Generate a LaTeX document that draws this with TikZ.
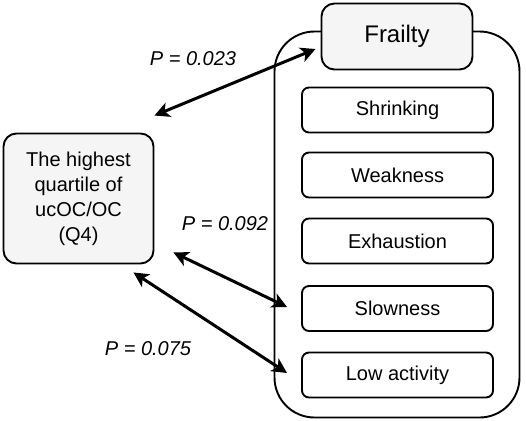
\documentclass[tikz,border=0pt]{standalone}
\usepackage{fontspec}
\setmainfont{Liberation Sans}
\usetikzlibrary{arrows.meta, positioning, calc}

\begin{document}
\begin{tikzpicture}[
      x=1pt, y=-1pt,
      box/.style={draw=black, line width=1.9pt, rectangle, rounded corners=7pt, fill=white, align=center, inner sep=0pt, minimum width=191pt, minimum height=45pt, font=\fontsize{20}{25}\selectfont},
      mainbox/.style={box, fill=black!4, rounded corners=13pt},
      link/.style={draw=black, {Stealth[length=15pt, width=15pt, inset=4pt]}-{Stealth[length=15pt, width=15pt, inset=4pt]}, line width=3pt},
      plabel/.style={font=\fontsize{20}{24}\itshape}
  ]
      \useasboundingbox (0,0) rectangle (526,420);

      % Right: frailty group
      \node [box, rounded corners=40pt, minimum width=245pt, minimum height=386pt] (group) at (397,224.5) {};
      \node [mainbox, minimum width=151pt, minimum height=66pt, font=\fontsize{24}{28}\selectfont] (frailty) at (397,36.5) {Frailty};

      % Components
      \node [box] (shrink) at (397.5,110) {Shrinking};
      \node [box] (weak) at (397.5,175) {Weakness};
      \node [box] (exhaust) at (397.5,241) {Exhaustion};
      \node [box] (slow) at (397.5,308.5) {Slowness};
      \node [box] (lowact) at (397.5,375) {Low activity};

      % Left: exposure
      \node [mainbox, minimum width=150pt, minimum height=130pt] (q4) at (78.5,198.5) {The highest\\quartile of\\ucOC/OC\\(Q4)};

      % Arrow ends
      \coordinate (q4a) at ($(q4.north east)+(0,-17)$);
      \coordinate (q4b) at ($(q4.south east)+(19,-12)$);
      \coordinate (q4c) at ($(q4.south east)+(-21,8)$);
      \coordinate (frailtyend) at ($(frailty.west)+(-5,12.5)$);
      \coordinate (slowend) at ($(slow.west)+(-14,-1.5)$);
      \coordinate (lowend) at ($(lowact.west)+(-14,-2)$);

      % Connections
      \path [link] (q4a) -- (frailtyend);
      \path [link] (q4b) -- (slowend);
      \path [link] (q4c) -- (lowend);

      % P values
      \node [plabel] (p1) at (193,59) {P = 0.023};
      \node [plabel] (p2) at (225,224) {P = 0.092};
      \node [plabel] (p3) at (148,349) {P = 0.075};
  \end{tikzpicture}
\end{document}
